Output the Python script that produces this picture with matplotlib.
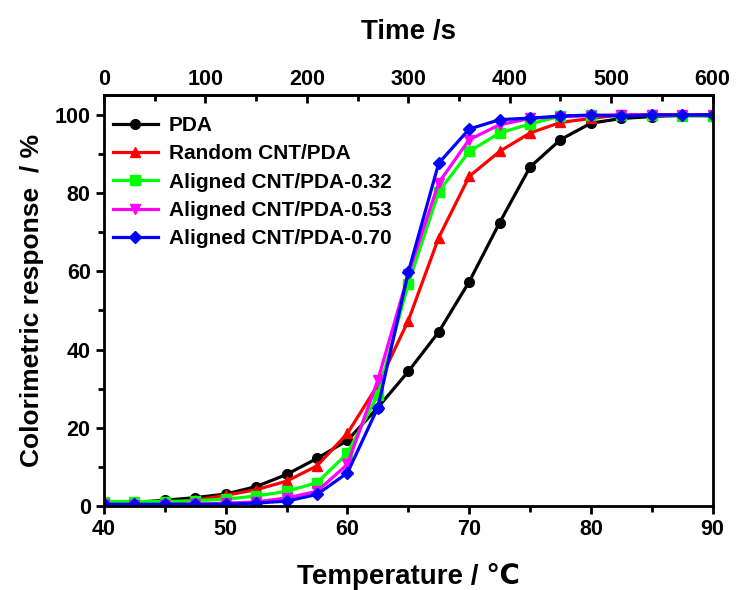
import matplotlib
matplotlib.use("Agg")
import matplotlib.pyplot as plt
from matplotlib.ticker import MultipleLocator

plt.rcParams["font.family"] = ["Liberation Sans", "DejaVu Sans"]
plt.rcParams["font.weight"] = "bold"

# temperature steps (deg C), one sample every 30 s
temperature = [40, 42.5, 45, 47.5, 50, 52.5, 55, 57.5, 60, 62.5, 65,
               67.5, 70, 72.5, 75, 77.5, 80, 82.5, 85, 87.5, 90]

pda = [0.5, 1.0, 1.5, 2.2, 3.1, 5.0, 8.1, 12.2, 16.8, 25.2, 34.4,
       44.5, 57.3, 72.4, 86.6, 93.6, 97.8, 99.0, 99.5, 99.8, 100.0]
random_cnt = [0.0, 0.3, 0.8, 1.5, 2.8, 4.2, 6.4, 10.3, 18.6, 31.0, 47.4,
              68.6, 84.2, 90.6, 95.3, 98.0, 99.0, 100.0, 100.0, 100.0, 99.6]
aligned_032 = [1.2, 1.2, 1.2, 1.4, 1.8, 2.6, 3.8, 6.0, 13.5, 28.5, 56.8,
               80.3, 90.6, 95.3, 97.6, 99.6, 99.8, 99.8, 99.8, 99.6, 99.6]
aligned_053 = [0.5, 0.4, 0.4, 0.5, 0.8, 1.1, 2.1, 3.8, 10.7, 32.2, 59.2,
               82.6, 93.6, 97.4, 99.0, 99.5, 99.7, 100.0, 99.8, 99.8, 99.8]
aligned_070 = [0.5, 0.5, 0.5, 0.5, 0.5, 0.8, 1.3, 3.0, 8.5, 25.2, 59.8,
               87.6, 96.3, 98.7, 99.1, 99.6, 99.9, 99.6, 99.9, 99.9, 99.9]

series = [
    ("PDA", pda, "black", "o"),
    ("Random CNT/PDA", random_cnt, "#ff0000", "^"),
    ("Aligned CNT/PDA-0.32", aligned_032, "#00ff00", "s"),
    ("Aligned CNT/PDA-0.53", aligned_053, "#ff00ff", "v"),
    ("Aligned CNT/PDA-0.70", aligned_070, "#0000ff", "D"),
]

fig = plt.figure(figsize=(7.37, 5.90), dpi=100)
ax = fig.add_axes([0.141, 0.142, 0.826, 0.697])

for label, vals, color, marker in series:
    ax.plot(temperature, vals, color=color, marker=marker, lw=2.3,
            ms=7 if marker != "D" else 6, label=label)

ax.set_xlim(40, 90)
ax.set_ylim(0, 105)
ax.xaxis.set_major_locator(MultipleLocator(10))
ax.xaxis.set_minor_locator(MultipleLocator(5))
ax.yaxis.set_major_locator(MultipleLocator(20))
ax.yaxis.set_minor_locator(MultipleLocator(10))
ax.tick_params(which="both", direction="out", width=2, labelsize=15.5,
               top=False, right=False)
ax.tick_params(which="major", length=6)
ax.tick_params(which="minor", length=4)
for sp in ax.spines.values():
    sp.set_linewidth(2)

ax.set_xlabel("Temperature / \u2103", fontsize=20, fontweight="bold", labelpad=16)
ax.set_ylabel("Colorimetric response  / %", fontsize=19, fontweight="bold", labelpad=8)

# time axis on top: 30 s per 2.5 degC step
top = ax.twiny()
top.set_xlim(0, 600)
top.xaxis.set_major_locator(MultipleLocator(100))
top.xaxis.set_minor_locator(MultipleLocator(50))
top.tick_params(which="both", direction="in", width=2, labelsize=15.5)
top.tick_params(which="major", length=6)
top.tick_params(which="minor", length=4)
top.spines["top"].set_linewidth(2)
top.set_xlabel("Time /s", fontsize=20, fontweight="bold", labelpad=22)

ax.legend(loc="upper left", bbox_to_anchor=(-0.02, 1.0), frameon=False,
          fontsize=15, handlelength=2.2, labelspacing=0.45,
          borderaxespad=0.5, handletextpad=0.5, borderpad=0.5)

fig.savefig("out.png", dpi=100)
